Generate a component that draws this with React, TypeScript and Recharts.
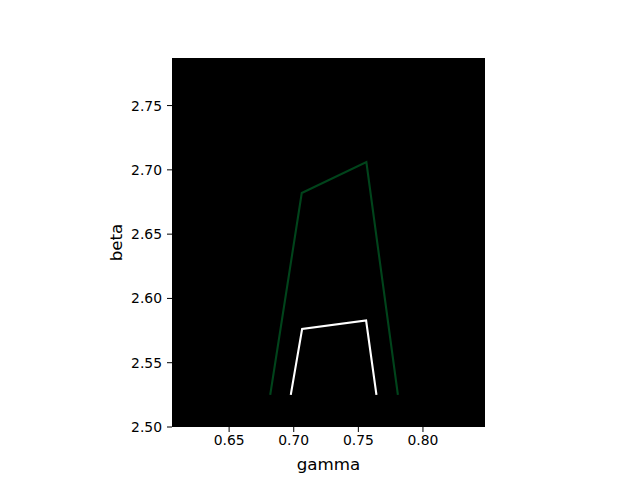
import { CartesianGrid, Label, Line, LineChart, XAxis, YAxis } from "recharts";

const outerGamma = [0.6818, 0.7062, 0.7562, 0.7806];
const outerBeta = [2.525, 2.682, 2.706, 2.525];
const innerGamma = [0.6977, 0.7065, 0.756, 0.764];
const innerBeta = [2.525, 2.5763, 2.5828, 2.525];

const xTicks = [0.65, 0.7, 0.75, 0.8];
const yTicks = [2.5, 2.55, 2.6, 2.65, 2.7, 2.75];

const outer = outerGamma.map((g, i) => ({ gamma: g, beta: outerBeta[i] }));
const inner = innerGamma.map((g, i) => ({ gamma: g, beta: innerBeta[i] }));

const font = "DejaVu Sans, sans-serif";
const tickStyle = { fill: "#000", fontSize: 13.9, fontFamily: font };

export default function App() {
  return (
    <div style={{ position: "absolute", left: 0, top: 0, background: "#fff" }}>
      <LineChart width={640} height={480} margin={{ top: 58, right: 155, bottom: 0, left: 0 }}>
        <CartesianGrid fill="#000" stroke="none" horizontal={false} vertical={false} />
        <XAxis
          type="number"
          dataKey="gamma"
          domain={[0.6058, 0.848]}
          ticks={xTicks}
          tickFormatter={(v: number) => v.toFixed(2)}
          allowDataOverflow
          height={53}
          tickSize={5}
          tickMargin={3}
          axisLine={false}
          tickLine={{ stroke: "#000" }}
          tick={tickStyle}
        >
          <Label value="gamma" position="insideBottom" offset={10} style={{ fill: "#000", fontSize: 16.7, fontFamily: font }} />
        </XAxis>
        <YAxis
          type="number"
          dataKey="beta"
          domain={[2.5, 2.787]}
          ticks={yTicks}
          tickFormatter={(v: number) => v.toFixed(2)}
          allowDataOverflow
          width={172}
          tickSize={5}
          tickMargin={5}
          axisLine={false}
          tickLine={{ stroke: "#000" }}
          tick={tickStyle}
        >
          <Label value="beta" angle={-90} position="insideRight" offset={56} style={{ fill: "#000", fontSize: 16.7, fontFamily: font, textAnchor: "middle" }} />
        </YAxis>
        <Line data={outer} dataKey="beta" stroke="#00441b" strokeWidth={2.1} dot={false} isAnimationActive={false} type="linear" />
        <Line data={inner} dataKey="beta" stroke="#ffffff" strokeWidth={2.1} dot={false} isAnimationActive={false} type="linear" />
      </LineChart>
    </div>
  );
}
